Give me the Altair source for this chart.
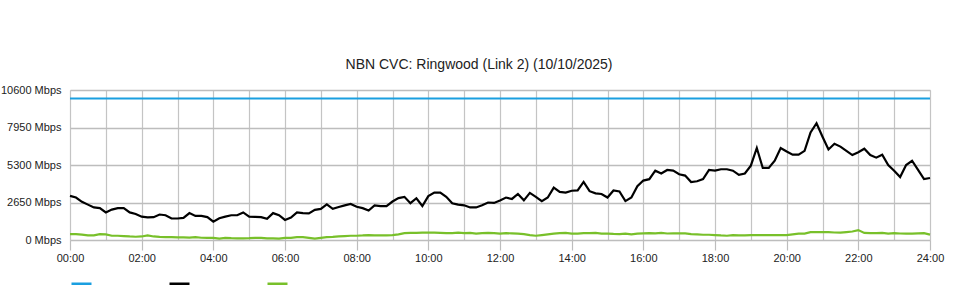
import altair as alt
import pandas as pd

# 10-minute samples across the day (hours from 00:00)
minutes = list(range(0, 24 * 60 + 1, 10))

capacity_mbps = 10000

download_mbps = [
    3120, 3000, 2700, 2500, 2300, 2250,
    1950, 2150, 2250, 2250, 1950, 1840,
    1650, 1600, 1610, 1800, 1750, 1520,
    1520, 1560, 1900, 1700, 1700, 1620,
    1300, 1540, 1650, 1750, 1750, 1950,
    1650, 1640, 1620, 1500, 1900, 1750,
    1420, 1590, 1950, 1900, 1880, 2130,
    2200, 2520, 2200, 2330, 2450, 2550,
    2350, 2250, 2080, 2450, 2400, 2400,
    2720, 2960, 3050, 2600, 2950, 2400,
    3100, 3350, 3350, 3050, 2600, 2500,
    2450, 2300, 2300, 2450, 2650, 2620,
    2790, 3000, 2900, 3250, 2800, 3330,
    3050, 2750, 3000, 3700, 3400, 3350,
    3480, 3500, 4100, 3450, 3300, 3250,
    3000, 3500, 3430, 2750, 3000, 3800,
    4200, 4300, 4900, 4700, 4950, 4900,
    4650, 4550, 4100, 4150, 4300, 4950,
    4900, 5000, 5000, 4900, 4600, 4700,
    5250, 6500, 5090, 5090, 5600, 6500,
    6250, 6030, 6030, 6300, 7600, 8250,
    7300, 6400, 6800, 6600, 6300, 6000,
    6200, 6450, 6000, 5820, 6030, 5300,
    4900, 4450, 5300, 5600, 4950, 4300,
    4380,
]

upload_mbps = [
    420, 420, 380, 330, 330, 420,
    400, 300, 300, 280, 250, 230,
    250, 320, 250, 220, 200, 200,
    180, 180, 170, 200, 160, 150,
    150, 100, 150, 130, 120, 120,
    130, 150, 150, 120, 120, 100,
    150, 150, 200, 200, 150, 100,
    150, 200, 220, 250, 280, 300,
    300, 320, 350, 330, 330, 320,
    350, 400, 480, 500, 500, 520,
    520, 520, 500, 480, 480, 520,
    480, 500, 450, 480, 500, 480,
    450, 480, 470, 450, 420, 350,
    300, 350, 400, 450, 480, 500,
    450, 450, 480, 480, 500, 450,
    450, 430, 420, 450, 400, 450,
    470, 480, 470, 500, 460, 470,
    470, 470, 420, 400, 370, 370,
    350, 320, 300, 350, 330, 330,
    350, 350, 350, 350, 350, 350,
    350, 400, 450, 450, 550, 550,
    550, 550, 530, 520, 560, 600,
    700, 500, 480, 480, 500, 450,
    480, 460, 450, 450, 470, 480,
    380,
]

series_names = ["Capacity", "Download", "Upload"]
series_colors = ["#1a9fe0", "#000000", "#78c02a"]

y_ticks = [0, 2650, 5300, 7950, 10600]
x_grid_hours = list(range(0, 25))

rows = []
for i, m in enumerate(minutes):
    h = m / 60.0
    rows.append({"hour": h, "series": "Capacity", "mbps": capacity_mbps})
    rows.append({"hour": h, "series": "Download", "mbps": download_mbps[i]})
    rows.append({"hour": h, "series": "Upload", "mbps": upload_mbps[i]})
df = pd.DataFrame(rows)

x_scale = alt.Scale(domain=[0, 24], nice=False, zero=False)
y_scale = alt.Scale(domain=[0, 10600], nice=False)

x_axis = alt.Axis(
    values=x_grid_hours, grid=True, gridColor="#c4c4c4", gridWidth=1.2,
    domain=False, ticks=True, tickSize=10, tickColor="#bdbdbd", tickWidth=1.2,
    tickOpacity={"condition": {"test": "datum.value % 2 == 0", "value": 1}, "value": 0},
    labelExpr="datum.value % 2 == 0 ? ((datum.value < 10 ? '0' : '') + datum.value + ':00') : ''",
    labelFontSize=11, labelFont="Liberation Sans", labelColor="#222222",
    labelPadding=2, labelFlush=False, labelOverlap=False,
)

y_axis = alt.Axis(
    values=y_ticks, labelExpr="datum.value + ' Mbps'",
    ticks=False, domain=False, grid=True, gridColor="#bdbdbd", gridWidth=1.6,
    labelPadding=9, labelFontSize=11, labelFont="Liberation Sans", labelColor="#222222",
)

chart = alt.Chart(df).mark_line(strokeWidth=2.2).encode(
    x=alt.X("hour:Q", scale=x_scale, title=None, axis=x_axis),
    y=alt.Y("mbps:Q", scale=y_scale, title=None, axis=y_axis),
    color=alt.Color("series:N", scale=alt.Scale(domain=series_names, range=series_colors),
                    sort=series_names,
                    legend=alt.Legend(orient="none", legendX=0, legendY=182, direction="horizontal",
                                      title=None, symbolType="stroke", symbolSize=400,
                                      symbolStrokeWidth=2.5, labelExpr="''", labelOffset=0,
                                      columnPadding=67, padding=0, symbolOffset=0)),
    order=alt.Order("hour:Q"),
).properties(
    width=860,
    height=150,
    padding={"left": 70, "top": 90, "right": 30, "bottom": 60},
    autosize=alt.AutoSizeParams(type="none"),
    title=alt.TitleParams("NBN CVC: Ringwood (Link 2) (10/10/2025)", fontSize=14,
                          font="Liberation Sans", fontWeight="normal", color="#222222",
                          anchor="middle", offset=12, dx=-21),
).configure_view(stroke=None).configure(background="white")

chart.save("out.html", embed_options={"renderer": "svg", "actions": False})
